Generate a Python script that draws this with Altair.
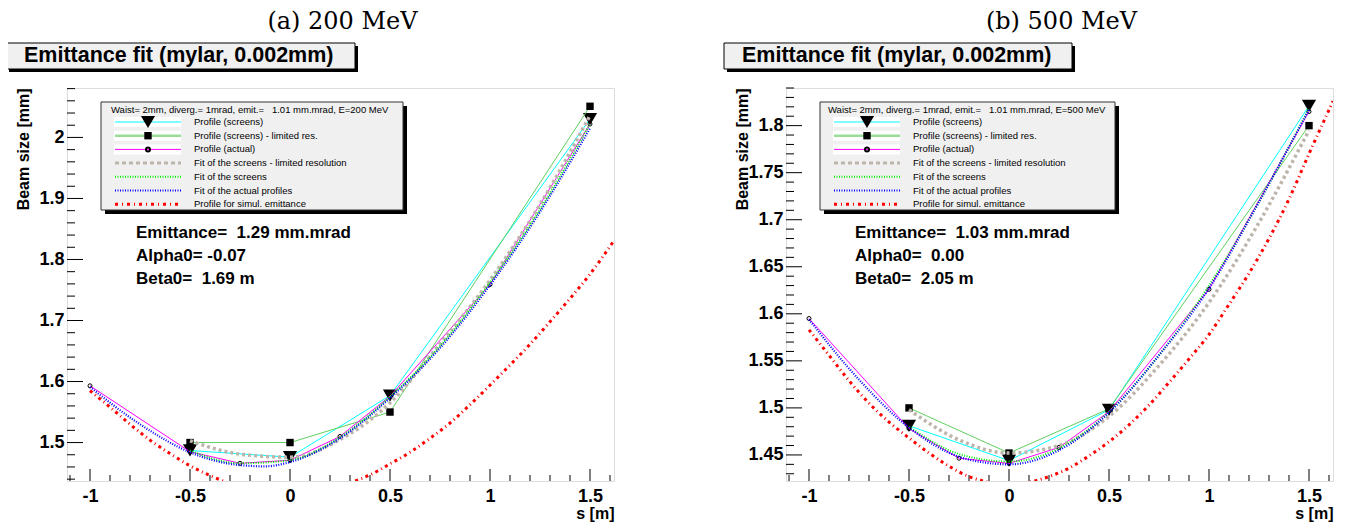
import altair as alt
import pandas as pd

FONT = "Liberation Sans"
SERIF = "DejaVu Serif"
NB = "\u00a0"

# ---------------- data ----------------
X_MAJOR = [-1.0, -0.5, 0.0, 0.5, 1.0, 1.5]
X_MINOR = [-1.1, -0.9, -0.8, -0.7, -0.6, -0.4, -0.3, -0.2, -0.1, 0.1, 0.2, 0.3, 0.4,
           0.6, 0.7, 0.8, 0.9, 1.1, 1.2, 1.3, 1.4, 1.6]

S_SCREENS = [-0.5, 0.0, 0.5, 1.5]
S_ACTUAL = [-1.0, -0.5, -0.25, 0.0, 0.25, 0.5, 1.0, 1.5]
S_FIT = [-0.5, -0.25, 0.0, 0.25, 0.5, 0.75, 1.0, 1.25, 1.5]
S_FIT_ACTUAL = [-1.0, -0.75, -0.5, -0.25, -0.125, 0.0, 0.25, 0.5, 0.75, 1.0, 1.25, 1.5]
S_SIM = [-1.0, -0.9, -0.8, -0.7, -0.6, -0.5, -0.4, -0.3, -0.2, -0.1, 0.0, 0.1, 0.2, 0.3,
         0.4, 0.5, 0.6, 0.7, 0.8, 0.9, 1.0, 1.1, 1.2, 1.3, 1.4, 1.5, 1.62]

# (a) 200 MeV
A_SCREENS = [1.487, 1.476, 1.577, 2.030]
A_SCREENS_LR = [1.500, 1.500, 1.550, 2.051]
A_ACTUAL = [1.593, 1.485, 1.466, 1.471, 1.510, 1.576, 1.759, 2.022]
A_FIT_LR = [1.503, 1.481, 1.476, 1.505, 1.565, 1.662, 1.766, 1.890, 2.036]
A_FIT_SCREENS = [1.487, 1.466, 1.471, 1.509, 1.575, 1.658, 1.762, 1.882, 2.022]
A_FIT_ACTUAL = [1.591, 1.530, 1.484, 1.463, 1.461, 1.468, 1.507, 1.573, 1.655, 1.758, 1.878, 2.015]
A_SIM = [1.585, 1.558, 1.530, 1.504, 1.482, 1.462, 1.446, 1.433, 1.424, 1.418, 1.416, 1.418,
         1.424, 1.434, 1.447, 1.465, 1.484, 1.507, 1.532, 1.562, 1.594, 1.627, 1.661, 1.698,
         1.736, 1.776, 1.831]
A_Y_MAJOR = [1.5, 1.6, 1.7, 1.8, 1.9, 2.0]
A_Y_MINOR = [1.44, 1.46, 1.48, 1.52, 1.54, 1.56, 1.58, 1.62, 1.64, 1.66, 1.68, 1.72, 1.74,
             1.76, 1.78, 1.82, 1.84, 1.86, 1.88, 1.92, 1.94, 1.96, 1.98, 2.02, 2.04, 2.06, 2.08]

# (b) 500 MeV
B_SCREENS = [1.481, 1.444, 1.498, 1.821]
B_SCREENS_LR = [1.500, 1.452, 1.499, 1.800]
B_ACTUAL = [1.595, 1.478, 1.4465, 1.441, 1.458, 1.496, 1.626, 1.815]
B_FIT_LR = [1.498, 1.466, 1.452, 1.460, 1.491, 1.545, 1.612, 1.697, 1.795]
B_FIT_SCREENS = [1.480, 1.451, 1.443, 1.457, 1.496, 1.556, 1.630, 1.719, 1.818]
B_FIT_ACTUAL = [1.594, 1.530, 1.479, 1.448, 1.442, 1.440, 1.455, 1.495, 1.556, 1.627, 1.719, 1.817]
B_SIM = [1.583, 1.556, 1.529, 1.505, 1.485, 1.468, 1.452, 1.438, 1.427, 1.421, 1.419, 1.421,
         1.427, 1.436, 1.449, 1.464, 1.482, 1.503, 1.527, 1.552, 1.578, 1.610, 1.643, 1.680,
         1.722, 1.770, 1.826]
B_Y_MAJOR = [1.45, 1.5, 1.55, 1.6, 1.65, 1.7, 1.75, 1.8]
B_Y_MINOR = [1.43, 1.44, 1.46, 1.47, 1.48, 1.49, 1.51, 1.52, 1.53, 1.54, 1.56, 1.57, 1.58,
             1.59, 1.61, 1.62, 1.63, 1.64, 1.66, 1.67, 1.68, 1.69, 1.71, 1.72, 1.73, 1.74,
             1.76, 1.77, 1.78, 1.79, 1.81, 1.82, 1.83, 1.84]

LEGEND_LABELS = ["Profile (screens)", "Profile (screens) - limited res.", "Profile (actual)",
                 "Fit of the screens - limited resolution", "Fit of the screens",
                 "Fit of the actual profiles", "Profile for simul. emittance"]

W, H = 547, 393
X_DOMAIN = [-1.115, 1.62]

C_CYAN = "#00ffff"
C_GREEN_L = "#5fcf5f"
C_MAGENTA = "#ff00ff"
C_GRAY = "#bdb5ac"
C_GREEN_D = "#00ee00"
C_BLUE = "#0000ff"
C_RED = "#ff0000"

ONE = pd.DataFrame({"k": [0]})


def panel(cfg):
    xs = alt.Scale(domain=X_DOMAIN, nice=False, zero=False)
    ys = alt.Scale(domain=cfg["ydom"], nice=False, zero=False)
    xenc = alt.X("s:Q", scale=xs, axis=alt.Axis(
        values=X_MAJOR, labelExpr="toString(datum.value)", domain=False, ticks=False,
        grid=False, labelFont=FONT, labelFontWeight="bold", labelFontSize=18,
        labelColor="black", labelPadding=6, title="s [m]", titleFont=FONT,
        titleFontWeight="bold", titleFontSize=16, titleColor="black",
        titleAlign="right", titleX=W, titleY=24, titleBaseline="top"))
    yenc = alt.Y("v:Q", scale=ys, axis=alt.Axis(
        values=cfg["ymajor"], labelExpr="toString(datum.value)", domain=False, ticks=False,
        grid=False, labelFont=FONT, labelFontWeight="bold", labelFontSize=18,
        labelColor="black", labelPadding=3, title="Beam size [mm]", titleFont=FONT,
        titleFontWeight="bold", titleFontSize=16, titleColor="black",
        titleAlign="right", titleX=-36, titleY=0, titleBaseline="bottom"))

    layers = []

    def line(s, v, color, width, dash=None, interp="linear"):
        df = pd.DataFrame({"s": s, "v": v})
        kw = dict(color=color, strokeWidth=width, interpolate=interp, clip=True)
        if dash:
            kw["strokeDash"] = dash
        return alt.Chart(df).mark_line(**kw).encode(x=xenc, y=yenc)

    def pts(s, v, shape, size, filled=True, color="black", sw=1):
        df = pd.DataFrame({"s": s, "v": v})
        return alt.Chart(df).mark_point(shape=shape, size=size, filled=filled, color=color,
                                        opacity=1, strokeWidth=sw, clip=True).encode(x=xenc, y=yenc)

    # ticks (inside the frame, as ROOT draws them)
    layers.append(alt.Chart(pd.DataFrame({"s": X_MAJOR})).mark_rule(color="black", strokeWidth=1)
                  .encode(x=xenc, y=alt.value(H), y2=alt.value(H - 12)))
    layers.append(alt.Chart(pd.DataFrame({"s": X_MINOR})).mark_rule(color="black", strokeWidth=1)
                  .encode(x=xenc, y=alt.value(H), y2=alt.value(H - 6)))
    layers.append(alt.Chart(pd.DataFrame({"v": cfg["ymajor"]})).mark_rule(color="black", strokeWidth=1)
                  .encode(y=yenc, x=alt.value(0), x2=alt.value(16)))
    layers.append(alt.Chart(pd.DataFrame({"v": cfg["yminor"]})).mark_rule(color="black", strokeWidth=1)
                  .encode(y=yenc, x=alt.value(0), x2=alt.value(8)))

    # data
    layers.append(line(S_SCREENS, cfg["screens"], C_CYAN, 1))
    layers.append(pts(S_SCREENS, cfg["screens"], "triangle-down", 200))
    layers.append(line(S_SCREENS, cfg["screens_lr"], C_GREEN_L, 1))
    layers.append(pts(S_SCREENS, cfg["screens_lr"], "square", 55))
    layers.append(line(S_ACTUAL, cfg["actual"], C_MAGENTA, 1))
    layers.append(pts(S_ACTUAL, cfg["actual"], "circle", 16, filled=False))
    layers.append(line(S_FIT, cfg["fit_lr"], C_GRAY, 3.5, [3, 3], "monotone"))
    layers.append(line(S_FIT, cfg["fit_screens"], C_GREEN_D, 2, [1, 1.5], "monotone"))
    layers.append(line(S_FIT_ACTUAL, cfg["fit_actual"], C_BLUE, 2.2, [1, 1.5], "monotone"))
    layers.append(line(S_SIM, cfg["sim"], C_RED, 3, [3, 3.5, 1, 3.5], "monotone"))

    # legend box
    bx0, bx1, by0, by1 = 34, cfg["legend_right"], 14, 122
    layers.append(alt.Chart(ONE).mark_rect(color="black")
                  .encode(x=alt.value(bx0 + 4), x2=alt.value(bx1 + 4), y=alt.value(by0 + 4), y2=alt.value(by1 + 4)))
    layers.append(alt.Chart(ONE).mark_rect(fill="#f0f0f0", stroke="#333333", strokeWidth=1)
                  .encode(x=alt.value(bx0), x2=alt.value(bx1), y=alt.value(by0), y2=alt.value(by1)))
    layers.append(alt.Chart(ONE).mark_text(text=cfg["legend_header"], font=FONT, fontSize=9.5,
                                           align="left", baseline="middle", color="black")
                  .encode(x=alt.value(cfg["header_x"]), y=alt.value(22)))
    row_y = [34, 47.7, 61.4, 75.1, 88.8, 102.5, 116.2]
    styles = [
        (C_CYAN, 1, None), ("#99dd99", 2.5, None), (C_MAGENTA, 1, None),
        (C_GRAY, 3, [4, 3]), (C_GREEN_D, 2, [1, 1.5]), (C_BLUE, 2, [1, 1.5]),
        (C_RED, 3, [3, 4, 1, 4]),
    ]
    for i, (lab, (col, w, dash)) in enumerate(zip(LEGEND_LABELS, styles)):
        y = row_y[i]
        if i < 3:
            layers.append(alt.Chart(ONE).mark_rect(color="white")
                          .encode(x=alt.value(47), x2=alt.value(114), y=alt.value(y - 5), y2=alt.value(y + 5)))
        kw = dict(color=col, strokeWidth=w)
        if dash:
            kw["strokeDash"] = dash
        layers.append(alt.Chart(ONE).mark_rule(**kw)
                      .encode(x=alt.value(48), x2=alt.value(114), y=alt.value(y)))
        layers.append(alt.Chart(ONE).mark_text(text=lab, font=FONT, fontSize=9.5, align="left",
                                               baseline="middle", color="black")
                      .encode(x=alt.value(127), y=alt.value(y)))
    layers.append(alt.Chart(ONE).mark_point(shape="triangle-down", size=200, filled=True, color="black", opacity=1)
                  .encode(x=alt.value(81), y=alt.value(row_y[0])))
    layers.append(alt.Chart(ONE).mark_point(shape="square", size=55, filled=True, color="black", opacity=1)
                  .encode(x=alt.value(81), y=alt.value(row_y[1])))
    layers.append(alt.Chart(ONE).mark_point(shape="circle", size=16, filled=False, color="black", opacity=1)
                  .encode(x=alt.value(81), y=alt.value(row_y[2])))

    # fit result annotation
    for j, t in enumerate(cfg["notes"]):
        layers.append(alt.Chart(ONE).mark_text(text=t, font=FONT, fontSize=17, fontWeight="bold",
                                               align="left", baseline="middle", color="black")
                      .encode(x=alt.value(69), y=alt.value(145 + 23 * j)))

    # header box and sub-caption
    tb0, tb1 = cfg["title_box"]
    layers.append(alt.Chart(ONE).mark_rect(color="black")
                  .encode(x=alt.value(tb0 + 3), x2=alt.value(tb1 + 3), y=alt.value(-42), y2=alt.value(-16)))
    layers.append(alt.Chart(ONE).mark_rect(fill="#f0f0f0", stroke="black", strokeWidth=1)
                  .encode(x=alt.value(tb0), x2=alt.value(tb1), y=alt.value(-45), y2=alt.value(-19)))
    layers.append(alt.Chart(ONE).mark_text(text="Emittance fit (mylar, 0.002mm)", font=FONT, fontSize=21.5,
                                           fontWeight="bold", align="left", baseline="middle", color="black")
                  .encode(x=alt.value(tb0 + 18), y=alt.value(-32)))
    layers.append(alt.Chart(ONE).mark_text(text=cfg["caption"], font=SERIF, fontSize=24,
                                           align="center", baseline="middle", color="black")
                  .encode(x=alt.value(W / 2 + 2), y=alt.value(-66)))

    return alt.layer(*layers).properties(width=W, height=H)


left = panel(dict(
    ydom=[1.437, 2.081], ymajor=A_Y_MAJOR, yminor=A_Y_MINOR,
    screens=A_SCREENS, screens_lr=A_SCREENS_LR, actual=A_ACTUAL, fit_lr=A_FIT_LR,
    fit_screens=A_FIT_SCREENS, fit_actual=A_FIT_ACTUAL, sim=A_SIM,
    legend_right=336, header_x=44,
    legend_header="Waist= 2mm, diverg.= 1mrad, emit.=" + NB * 3 + "1.01 mm.mrad, E=200 MeV",
    notes=["Emittance=" + NB * 2 + "1.29 mm.mrad", "Alpha0= -0.07", "Beta0=" + NB * 2 + "1.69 m"],
    title_box=(-61, 288), caption="(a) 200 MeV",
))
right = panel(dict(
    ydom=[1.4223, 1.84], ymajor=B_Y_MAJOR, yminor=B_Y_MINOR,
    screens=B_SCREENS, screens_lr=B_SCREENS_LR, actual=B_ACTUAL, fit_lr=B_FIT_LR,
    fit_screens=B_FIT_SCREENS, fit_actual=B_FIT_ACTUAL, sim=B_SIM,
    legend_right=329, header_x=42,
    legend_header="Waist= 2mm, diverg.= 1mrad, emit.=" + NB * 3 + "1.01 mm.mrad, E=500 MeV",
    notes=["Emittance=" + NB * 2 + "1.03 mm.mrad", "Alpha0=" + NB * 2 + "0.00", "Beta0=" + NB * 2 + "2.05 m"],
    title_box=(-62, 286), caption="(b) 500 MeV",
))

chart = alt.hconcat(left, right, spacing=108).configure_view(
    stroke="#8b1a1a", strokeWidth=2
).configure(background="white").properties(padding={"top": 1, "left": -3, "right": 0, "bottom": 0})

chart.save("out.html", embed_options={"renderer": "svg", "actions": False})
